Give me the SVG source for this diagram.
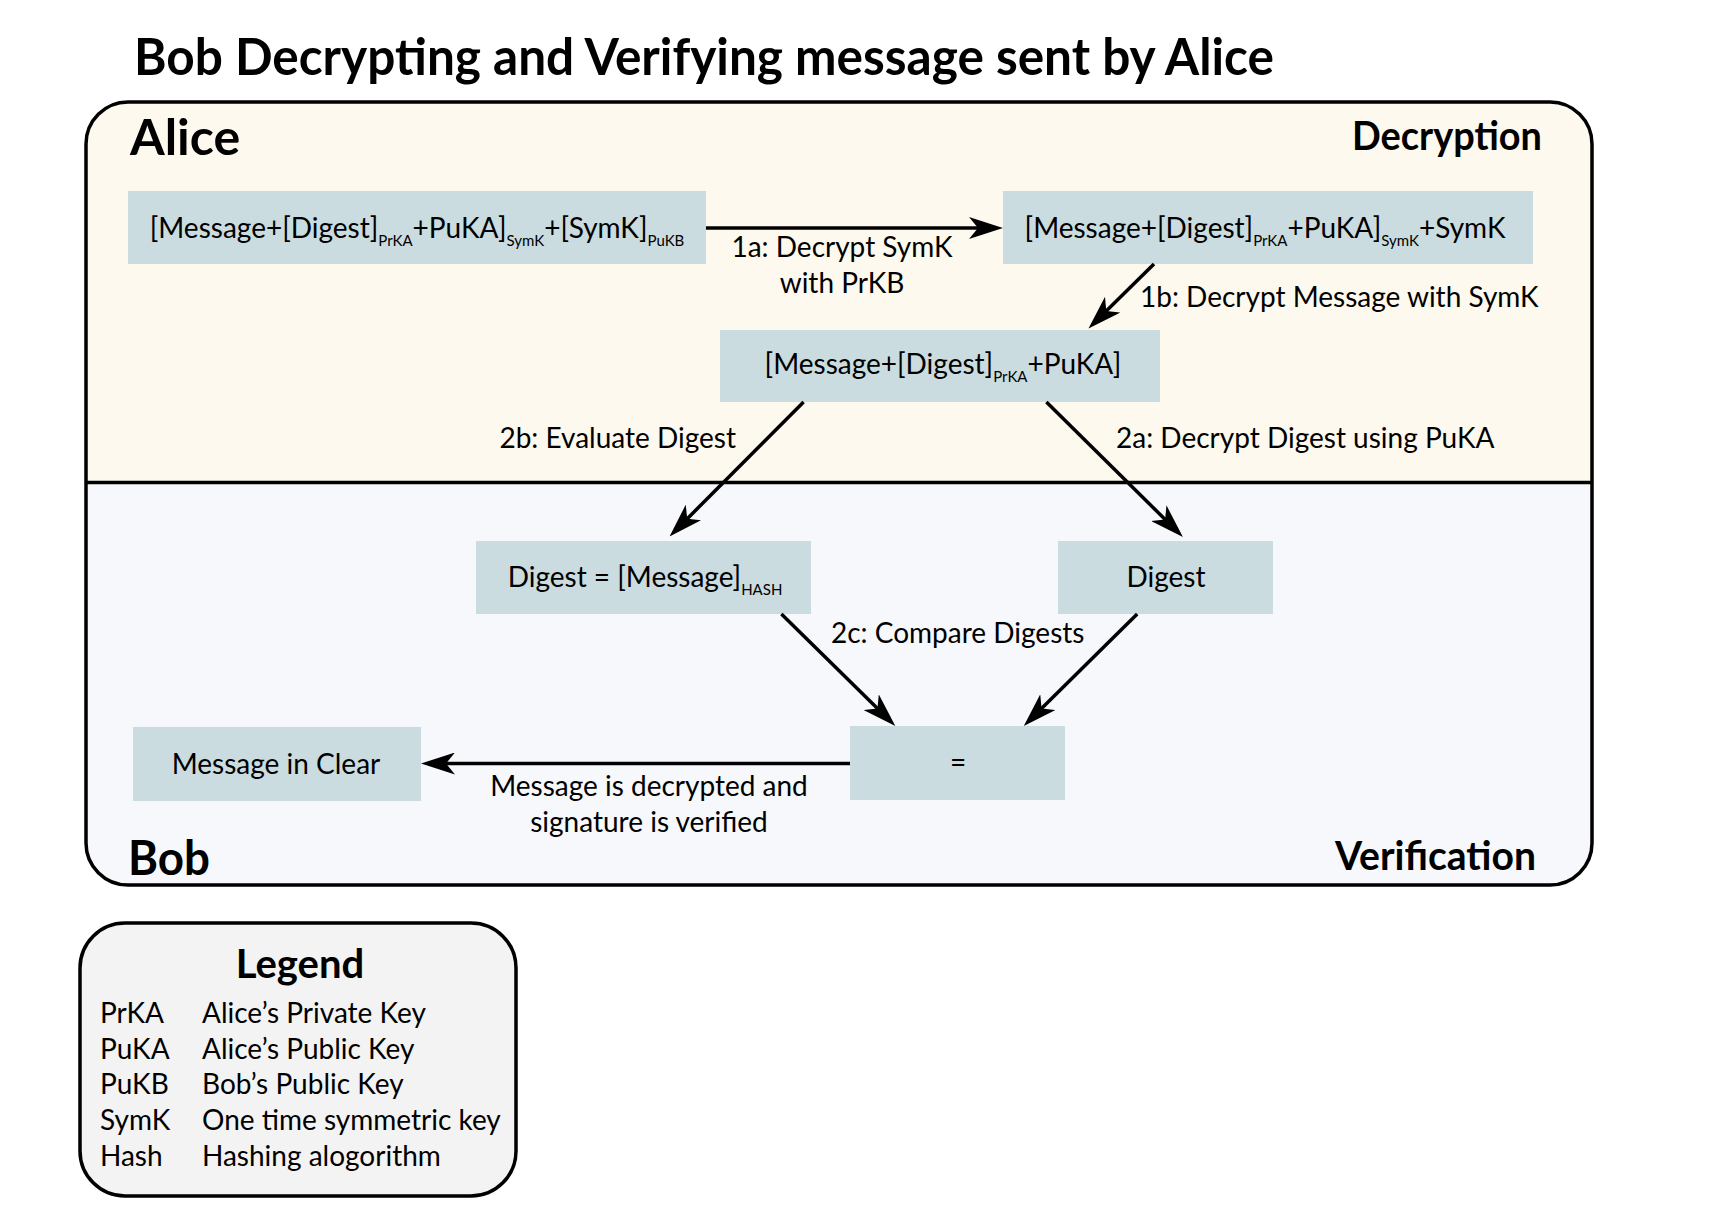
<svg xmlns="http://www.w3.org/2000/svg" width="1714" height="1226" viewBox="0 0 1714 1226">
<style>
text{font-family:Lato,"Noto Sans","Liberation Sans",sans-serif;fill:#000}
.t{font-size:28px}
.b{font-weight:bold}
.s{font-size:15px}
.node{fill:#cadcdf}
.con{stroke:#000;stroke-width:3.5;fill:none;marker-end:url(#ah)}
</style>
<defs>
<marker id="ah" markerUnits="userSpaceOnUse" viewBox="0 0 34 22" markerWidth="34" markerHeight="22" refX="24" refY="11" orient="auto">
<path d="M0,0 L34,11 L0,22 L9,11 Z" fill="#000"/>
</marker>
<clipPath id="outer"><rect x="86" y="102" width="1506" height="783" rx="42"/></clipPath>
</defs>
<rect width="1714" height="1226" fill="#fff"/>
<text class="b" x="134" y="75" font-size="52" textLength="1140" lengthAdjust="spacingAndGlyphs">Bob Decrypting and Verifying message sent by Alice</text>
<g id="container">
<g clip-path="url(#outer)">
<rect x="86" y="102" width="1506" height="381" fill="#fdf9ee"/>
<rect x="86" y="483" width="1506" height="402" fill="#f6f8fb"/>
</g>
<rect x="86" y="102" width="1506" height="783" rx="42" fill="none" stroke="#000" stroke-width="3.5"/>
<line x1="86" y1="482.5" x2="1592" y2="482.5" stroke="#000" stroke-width="3.5"/>
<text class="b" x="130" y="155" font-size="50">Alice</text>
<text class="b" x="1352" y="150" font-size="41" textLength="190" lengthAdjust="spacingAndGlyphs">Decryption</text>
<text class="b" x="128" y="875" font-size="48" textLength="82" lengthAdjust="spacingAndGlyphs">Bob</text>
<text class="b" x="1335" y="870" font-size="41" textLength="201" lengthAdjust="spacingAndGlyphs">Verification</text>
</g>
<g id="n1"><rect class="node" x="128" y="191" width="578" height="73"/>
<text class="t" x="417" y="238" text-anchor="middle">[Message+[Digest]<tspan class="s" dy="8">PrKA</tspan><tspan dy="-8">+PuKA]</tspan><tspan class="s" dy="8">SymK</tspan><tspan dy="-8">+[SymK]</tspan><tspan class="s" dy="8">PuKB</tspan></text></g>
<g id="n2"><rect class="node" x="1003" y="191" width="530" height="73"/>
<text class="t" x="1265" y="238" text-anchor="middle">[Message+[Digest]<tspan class="s" dy="8">PrKA</tspan><tspan dy="-8">+PuKA]</tspan><tspan class="s" dy="8">SymK</tspan><tspan dy="-8">+SymK</tspan></text></g>
<g id="n3"><rect class="node" x="720" y="330" width="440" height="72"/>
<text class="t" x="943" y="374" text-anchor="middle">[Message+[Digest]<tspan class="s" dy="8">PrKA</tspan><tspan dy="-8">+PuKA]</tspan></text></g>
<g id="n4"><rect class="node" x="476" y="541" width="335" height="73"/>
<text class="t" x="645" y="587" text-anchor="middle">Digest = [Message]<tspan class="s" dy="8">HASH</tspan></text></g>
<g id="n5"><rect class="node" x="1058" y="541" width="215" height="73"/>
<text class="t" x="1166" y="587" text-anchor="middle">Digest</text></g>
<g id="n6"><rect class="node" x="850" y="726" width="215" height="74"/>
<text class="t" x="958" y="772" text-anchor="middle">=</text></g>
<g id="n7"><rect class="node" x="133" y="727" width="288" height="74"/>
<text class="t" x="276" y="774" text-anchor="middle">Message in Clear</text></g>
<g id="connectors">
<line class="con" x1="706" y1="228" x2="993" y2="228"/>
<line class="con" x1="1154" y1="264" x2="1095.6" y2="321.5"/>
<line class="con" x1="803.6" y1="402" x2="676.6" y2="529.4"/>
<line class="con" x1="1046.4" y1="402" x2="1175.8" y2="530"/>
<line class="con" x1="781.4" y1="614" x2="888.2" y2="719"/>
<line class="con" x1="1137.2" y1="614" x2="1030.9" y2="719"/>
<line class="con" x1="850" y1="763.5" x2="431" y2="763.5"/>
<text class="t" x="842" y="257" text-anchor="middle">1a: Decrypt SymK</text>
<text class="t" x="842" y="293" text-anchor="middle">with PrKB</text>
<text class="t" x="1140" y="307">1b: Decrypt Message with SymK</text>
<text class="t" x="736" y="448" text-anchor="end">2b: Evaluate Digest</text>
<text class="t" x="1116" y="448">2a: Decrypt Digest using PuKA</text>
<text class="t" x="831" y="643">2c: Compare Digests</text>
<text class="t" x="649" y="796" text-anchor="middle">Message is decrypted and</text>
<text class="t" x="649" y="832" text-anchor="middle">signature is verified</text>
</g>
<g id="legend">
<rect x="80" y="923" width="436" height="273" rx="45" fill="#f3f3f3" stroke="#000" stroke-width="3.5"/>
<text class="b" x="300" y="978" font-size="40" text-anchor="middle">Legend</text>
<text class="t" x="100" y="1023">PrKA</text><text class="t" x="202" y="1023">Alice’s Private Key</text>
<text class="t" x="100" y="1059">PuKA</text><text class="t" x="202" y="1059">Alice’s Public Key</text>
<text class="t" x="100" y="1094">PuKB</text><text class="t" x="202" y="1094">Bob’s Public Key</text>
<text class="t" x="100" y="1130">SymK</text><text class="t" x="202" y="1130">One time symmetric key</text>
<text class="t" x="100" y="1166">Hash</text><text class="t" x="202" y="1166">Hashing alogorithm</text>
</g>
</svg>
